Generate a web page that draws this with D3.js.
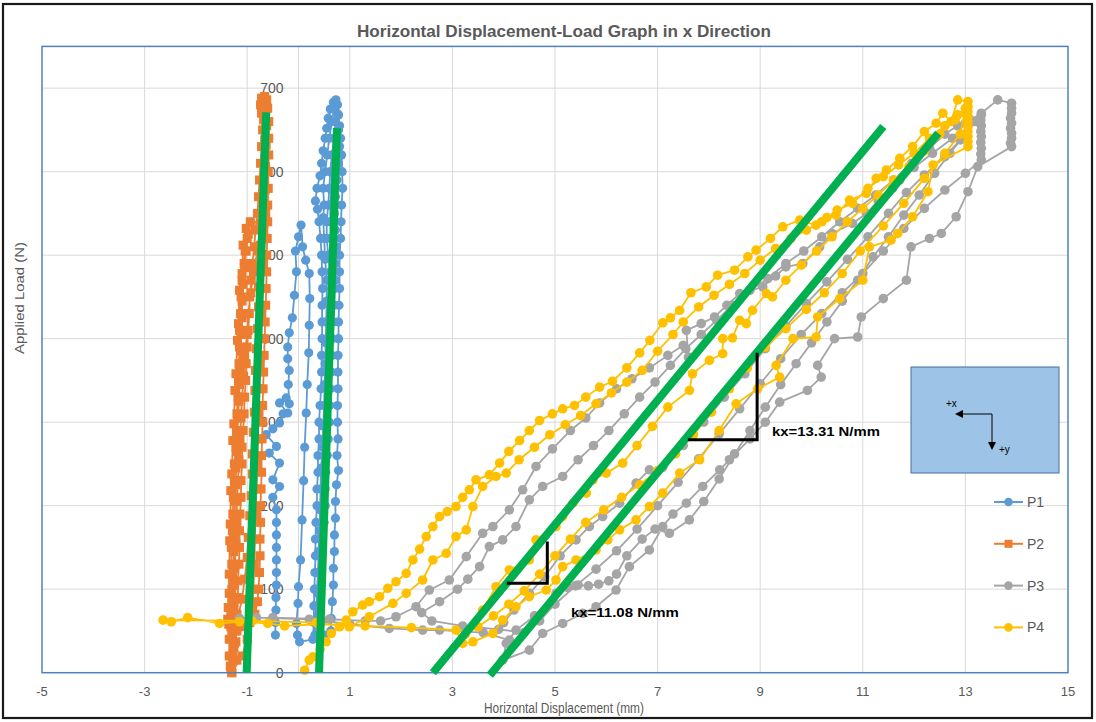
<!DOCTYPE html>
<html><head><meta charset="utf-8">
<script src="https://cdn.jsdelivr.net/npm/d3@7"></script>
<style>html,body{margin:0;padding:0;background:#fff;} svg{display:block;font-family:"Liberation Sans",Arial,sans-serif;}</style>
</head><body><svg id="c" width="1096" height="722"></svg>
<script>
// ---------- data ----------
const chartTitle = "Horizontal Displacement-Load Graph in x Direction";
const xTitle = "Horizontal Displacement (mm)";
const yTitle = "Applied Load (N)";
const xTicks = [-5,-3,-1,1,3,5,7,9,11,13,15];
const yTicks = [0,100,200,300,400,500,600,700];
const seriesNames = ["P1","P2","P3","P4"];

const P1 = [[-0.45,45],[-0.45,60],[-0.44,75],[-0.44,90],[-0.43,105],[-0.43,120],[-0.43,135],[-0.43,150],[-0.43,165],[-0.43,180],[-0.43,195],[-0.5,210],[-0.37,223],[-0.5,231],[-0.37,251],[-0.57,263],[-0.43,271],[-0.63,285],[-0.5,292],[-0.37,299],[-0.3,310],[-0.21,311],[-0.37,323],[-0.24,329],[-0.18,322],[-0.2,345],[-0.18,362],[-0.21,376],[-0.21,390],[-0.18,407],[-0.12,425],[-0.08,452],[-0.04,480],[-0.06,505],[0.0,522],[0.05,536],[0.08,510],[0.14,494],[0.21,478],[0.22,448],[0.21,416],[0.2,383],[0.17,345],[0.15,311],[0.12,270],[0.1,230],[0.07,183],[0.04,135],[0.0,103],[-0.01,83],[-0.04,59],[-0.02,45],[0.02,37],
[0.28,40],[0.3,60],[0.3,80],[0.31,100],[0.32,120],[0.33,140],[0.33,160],[0.34,180],[0.36,200],[0.36,220],[0.38,240],[0.38,260],[0.4,280],[0.4,300],[0.42,320],[0.44,340],[0.45,360],[0.45,380],[0.46,400],[0.46,420],[0.46,440],[0.47,460],[0.46,480],[0.45,500],[0.43,520],[0.4,540],[0.37,555],[0.33,565],[0.36,580],[0.42,595],[0.45,610],[0.48,625],[0.52,640],[0.55,652],[0.58,664],[0.62,675],[0.68,683],[0.73,686],[0.76,680],[0.78,668],[0.8,655],
[0.82,640],[0.84,620],[0.85,600],[0.86,580],[0.84,560],[0.83,540],[0.82,520],[0.8,500],[0.8,480],[0.8,460],[0.79,440],[0.78,420],[0.78,400],[0.77,380],[0.77,360],[0.77,340],[0.76,320],[0.76,300],[0.77,280],[0.75,260],[0.78,242],[0.74,225],[0.72,205],[0.72,185],[0.7,165],[0.7,145],[0.68,125],[0.68,105],[0.66,85],[0.64,65],[0.63,50],
[0.5,45],[0.45,60],[0.42,80],[0.42,100],[0.44,120],[0.45,140],[0.47,160],[0.5,180],[0.52,200],[0.52,220],[0.53,240],[0.56,260],[0.58,280],[0.6,300],[0.6,320],[0.6,340],[0.62,360],[0.62,380],[0.62,400],[0.63,420],[0.64,440],[0.65,460],[0.62,480],[0.58,500],[0.55,520],[0.55,540],[0.58,560],[0.6,580],[0.62,600],[0.65,620],[0.7,640],[0.72,660],
[0.7,640],[0.68,620],[0.66,600],[0.64,580],[0.62,560],[0.62,540],[0.64,520],[0.66,500],[0.68,480],[0.7,460],[0.7,440],[0.68,420],[0.66,400],[0.65,380],[0.64,360],[0.62,340],[0.6,320],[0.58,300],[0.55,280],[0.52,260],[0.5,240],[0.48,220],[0.46,200],[0.44,180],[0.42,160],[0.4,140],[0.38,120],[0.36,100],[0.35,80],[0.33,60],[0.32,45],
[0.38,70],[0.37,95],[0.38,120],[0.39,145],[0.41,170],[0.42,195],[0.43,220],[0.44,245],[0.47,270],[0.48,295],[0.5,320],[0.51,345],[0.52,370],[0.53,395],[0.54,420],[0.55,445],[0.55,470],[0.52,495],[0.5,520],[0.48,545],[0.5,560],[0.48,580],[0.52,600],[0.56,620],[0.6,640],[0.65,660],[0.7,675],[0.75,670],[0.78,650],[0.8,630],[0.78,610],[0.75,590],[0.72,570],[0.7,550],[0.72,530],[0.74,510],[0.72,490],[0.72,470]];

const P2 = [[-1.3,0],[-1.28,15],[-1.26,30],[-1.3,45],[-1.36,58],[-1.38,64],[-1.32,70],[-1.3,85],[-1.3,100],[-1.28,115],[-1.3,130],[-1.31,150],[-1.29,170],[-1.28,190],[-1.27,210],[-1.25,230],[-1.25,250],[-1.22,270],[-1.21,290],[-1.2,310],[-1.18,330],[-1.17,350],[-1.16,370],[-1.15,390],[-1.15,410],[-1.13,430],[-1.12,450],[-1.1,470],[-1.06,490],[-1.04,505],[-1.0,520],[-0.94,540],
[-0.98,525],[-1.02,505],[-1.05,485],[-1.08,465],[-1.1,445],[-1.1,425],[-1.12,405],[-1.12,385],[-1.14,365],[-1.15,345],[-1.16,325],[-1.18,305],[-1.2,285],[-1.2,265],[-1.22,245],[-1.22,225],[-1.24,205],[-1.24,185],[-1.25,165],[-1.26,145],[-1.26,125],[-1.28,105],[-1.28,85],[-1.3,70],[-1.32,55],
[-1.2,50],[-1.1,55],[-0.95,62],[-0.85,70],[-0.8,85],[-0.78,100],[-0.76,120],[-0.75,140],[-0.75,160],[-0.74,180],[-0.74,200],[-0.73,220],[-0.72,240],[-0.72,260],[-0.71,280],[-0.7,300],[-0.7,320],[-0.69,340],[-0.68,360],[-0.67,380],[-0.66,400],[-0.65,420],[-0.64,440],[-0.63,460],[-0.62,480],[-0.62,500],[-0.61,520],[-0.6,540],[-0.6,560],[-0.59,580],[-0.59,600],[-0.58,620],[-0.58,640],[-0.58,660],[-0.6,676],[-0.62,686],[-0.66,690],[-0.72,688],[-0.74,680],[-0.72,670],
[-0.7,650],[-0.72,630],[-0.74,610],[-0.76,590],[-0.78,570],[-0.8,550],[-0.84,530],[-0.86,510],[-0.9,490],[-0.92,470],[-0.95,450],[-0.96,430],[-0.98,410],[-1.0,390],[-1.02,370],[-1.03,350],[-1.05,330],[-1.06,310],[-1.08,290],[-1.1,270],[-1.1,250],[-1.12,230],[-1.12,210],[-1.14,190],[-1.15,170],[-1.15,150],[-1.16,130],[-1.18,110],[-1.18,90],[-1.2,70],[-1.22,50],[-1.25,35],[-1.3,20],[-1.32,5],[-1.3,0],
[-1.1,20],[-1.0,40],[-0.95,60],[-0.9,80],[-0.88,100],[-0.86,130],[-0.85,160],[-0.84,190],[-0.82,220],[-0.8,250],[-0.8,280],[-0.78,310],[-0.77,340],[-0.76,370],[-0.74,400],[-0.73,430],[-0.7,460],[-0.68,490],[-0.66,520],[-0.64,550],
[-0.7,530],[-0.8,505],[-0.88,480],[-0.93,455],[-0.98,430],[-1.0,405],[-1.05,380],[-1.07,355],[-1.1,330],[-1.12,305],[-1.14,280],[-1.16,255],[-1.18,230],[-1.2,205],[-1.2,180],[-1.22,155],[-1.24,130],[-1.25,105],[-1.26,80],[-1.3,60],[-1.35,40],[-1.35,20],[-1.33,8],
[-1.2,15],[-1.22,37],[-1.2,62],[-1.1,88],[-1.05,112],[-1.0,138],[-0.98,162],[-0.95,188],[-0.92,212],[-0.9,238],[-0.9,262],[-0.88,288],[-0.86,312],[-0.85,338],[-0.84,362],[-0.82,388],[-0.8,412],[-0.78,438],[-0.78,462],[-0.76,488],[-0.74,512],[-0.72,538],[-0.7,562],[-0.68,588],[-0.66,612],[-0.66,638],[-0.68,662],
[-0.64,672],[-0.62,655],[-0.63,632],[-0.64,606],[-0.65,578],[-0.66,548],[-1.02,532],[-1.08,512],[-1.1,478],[-1.15,458],[-1.17,418],[-1.19,398],[-1.22,358],[-1.24,338],[-1.26,298],[-1.28,278],[-1.3,238],[-1.32,218],[-1.33,178],[-1.34,158],[-1.35,118],[-1.35,95],[-1.37,78]];

const P3 = [[4.11,39],[3.6,48],[2.75,51],[2.42,51],[1.77,53],[1.0,58],[0.21,64],[-0.82,66],[-1.15,65],[-0.5,66],[0.6,64],[1.3,62],[1.6,62],
[1.9,67],[2.29,79],[2.55,99],[2.94,111],[3.27,139],[3.59,167],[3.79,175],[4.11,195],[4.37,219],[4.63,247],[4.95,268],[5.3,290],[5.6,305],[5.87,323],[6.2,340],[6.5,352],[6.84,365],[7.2,380],[7.5,392],[7.6,378],[7.56,410],[7.85,418],[8.11,426],[8.35,440],[8.6,454],[9.05,462],[9.3,475],[9.5,486],[9.83,490],[10.16,510],[10.4,526],[10.8,538],[11.07,550],[11.3,565],[11.58,580],[11.72,590],[12.0,605],[12.36,622],[12.75,640],[13.0,658],[13.31,670],[13.63,686],[13.9,682],[13.9,676],[13.9,670],[13.88,664],[13.9,658],[13.88,652],[13.9,646],[13.9,640],[13.88,634],[13.9,630],
[13.24,606],[13.05,576],[12.82,546],[12.53,526],[12.3,520],[11.94,510],[11.85,470],[11.4,448],[10.97,426],[10.9,402],[10.45,400],[10.12,368],[10.19,354],[9.92,338],[9.38,324],[9.1,300],[8.8,280],[8.4,255],[8.21,243],[7.88,223],[7.56,203],[7.3,190],[7.1,175],[6.84,147],[6.45,127],[6.19,99],[5.8,79],[5.54,71],[5.15,59],[4.76,47],[4.5,27],[3.98,15],[4.05,35],[4.24,51],
[4.6,68],[5.02,95],[5.25,102],[5.45,105],[5.65,104],[5.85,106],[6.05,110],[6.2,118],[6.4,140],[6.7,160],[6.95,172],[7.23,167],[7.62,183],[7.9,205],[8.2,232],[8.5,262],[8.8,290],[9.1,318],[9.4,345],[9.7,370],[10.0,395],[10.3,420],[10.6,445],[10.9,470],[11.2,498],[11.5,522],[11.8,548],[12.1,572],[12.4,598],[12.7,622],[13.0,645],[13.2,660],[13.31,668],[13.3,662],[13.31,655],[13.3,648],[13.31,642],[13.3,635],[13.31,628],[13.3,621],[13.31,614],
[13.0,598],[12.6,578],[12.2,556],[11.8,532],[11.4,505],[11.0,478],[10.6,455],[10.2,430],[9.8,405],[9.4,376],[9.0,346],[8.6,316],[8.2,286],[7.8,256],[7.4,228],[7.0,200],[6.6,172],[6.2,146],[5.8,124],[5.4,104],[5.0,82],[4.7,62],[4.4,48],
[3.9,52],[3.2,56],[2.6,62],[2.4,72],[2.75,85],[3.1,100],[3.3,112],[3.53,127],[3.72,151],[3.98,159],[4.24,175],[4.5,207],[4.76,223],[5.15,235],[5.45,255],[5.75,272],[6.05,290],[6.35,310],[6.65,330],[6.95,348],[7.25,368],[7.55,388],[7.85,405],[8.15,422],[8.45,440],[8.8,458],[9.15,472],[9.5,490],[9.85,505],[10.2,522],[10.55,540],[10.9,556],[11.25,572],[11.6,590],[11.95,610],[12.3,628],[12.6,645],[12.85,655],[13.1,662],
[12.9,638],[12.6,618],[12.2,596],[11.85,575],[11.5,550],[11.1,522],[10.7,495],[10.3,468],[9.9,442],[9.5,415],[9.1,388],[8.7,358],[8.3,330],[7.9,300],[7.5,272],[7.1,246],[6.84,243],[6.58,227],[6.26,203],[5.93,187],[5.67,175],[5.41,159],[5.1,140],[4.8,115],[4.5,95],[4.2,75],[4.0,60]];

const P4 = [[0.12,3],[0.21,15],[0.28,19],[0.42,28],[0.54,37],[0.64,47],[0.8,55],[0.93,63],[1.06,73],[1.25,81],[1.38,85],[1.58,91],[1.74,101],[1.9,109],[2.1,119],[2.23,135],[2.36,148],[2.49,163],[2.62,175],[2.75,187],[2.9,193],[3.07,199],[3.2,210],[3.33,219],[3.46,231],[3.72,237],[3.92,251],[4.1,265],[4.31,278],[4.5,290],[4.7,302],[4.95,310],[5.15,316],[5.38,320],[5.6,330],[5.87,342],[6.12,349],[6.4,365],[6.65,383],[6.85,398],[7.1,419],[7.25,425],[7.43,434],[7.65,455],[7.95,462],[8.17,476],[8.5,482],[8.76,498],[8.92,506],[9.2,520],[9.44,534],[9.77,542],[10.09,536],[10.3,545],[10.48,548],[10.74,566],[11.07,574],[11.26,592],[11.46,602],[11.72,616],[11.97,630],[12.2,648],[12.43,658],[12.56,670],[12.72,660],[12.85,686],[13.05,684],[13.05,678],[13.05,672],[13.05,666],[13.05,660],[13.05,654],[13.05,648],[13.05,642],[13.05,636],[13.05,630],
[12.37,608],[12.27,576],[11.97,546],[11.68,526],[11.55,518],[11.13,510],[11.0,470],[10.55,448],[10.12,426],[10.09,402],[9.64,400],[9.31,368],[9.38,354],[8.95,340],[8.53,322],[8.2,290],[7.82,255],[7.43,239],[7.1,215],[6.84,199],[6.58,183],[6.26,171],[6.03,159],[5.8,147],[5.41,135],[5.15,127],[5.02,111],[4.83,99],[4.5,91],[4.24,79],[3.98,63],[3.79,47],[3.4,37],[3.2,35],[3.07,51],
[2.2,54],[1.3,56],[0.4,58],[-0.27,56],[-0.6,59],[-1.15,61],[-1.54,59],[-2.16,66],[-2.48,61],[-2.64,63],[-0.9,62],[0.35,60],
[0.99,55],[1.38,67],[1.84,83],[2.1,95],[2.42,111],[2.62,135],[2.88,143],[3.07,163],[3.27,171],[3.4,199],[3.59,223],[3.85,235],[4.05,239],[4.3,255],[4.6,270],[4.9,285],[5.2,297],[5.5,308],[5.8,322],[6.1,335],[6.4,348],[6.7,362],[7.0,385],[7.3,405],[7.5,420],[7.8,438],[8.1,452],[8.4,465],[8.7,478],[9.0,494],[9.3,508],[9.6,520],[9.9,530],[10.2,540],[10.5,554],[10.8,562],[11.1,580],[11.4,594],[11.7,608],[12.0,622],[12.3,640],[12.6,655],[12.85,668],[13.0,676],
[12.9,645],[12.6,622],[12.2,592],[11.8,562],[11.4,535],[10.95,505],[10.6,478],[10.25,455],[9.9,435],[9.5,412],[9.1,390],[8.75,365],[8.4,340],[8.05,312],[7.7,285],[7.35,262],[7.0,242],[6.65,225],[6.3,210],[5.95,195],[5.6,180],[5.3,160],[5.0,140],[4.7,118],[4.4,98],[4.1,82],[3.8,68],[3.5,55],[3.25,46],
[3.59,75],[3.85,103],[4.11,123],[4.5,135],[4.63,159],[5.02,175],[5.15,187],[5.35,203],[5.61,215],[5.74,231],[6.0,239],[6.32,251],[6.6,272],[6.9,295],[7.2,318],[7.62,338],[7.68,358],[8.01,374],[8.27,382],[8.27,400],[8.46,401],[8.6,422],[8.73,418],[8.85,434],[9.12,454],[9.24,450],[9.5,470],[9.8,488],[10.1,505],[10.4,522],[10.7,540],[11.0,556],[11.3,572],[11.6,590],[11.9,606],[12.2,625],[12.5,645],[12.8,662],[13.0,670]];

// fitted stiffness lines (data units)
const fitLines = [[[-1.01,0],[-0.63,671]],[[0.4,0],[0.75,652]],[[2.62,0],[11.4,654]],[[3.73,-3],[12.47,646]]];
// stiffness triangles (data units)
const stiffMarks = [[[4.06,107],[4.85,107],[4.85,157]],[[7.59,279],[8.94,279],[8.94,383]]];
const stiffLabels = ["kx=11.08 N/mm","kx=13.31 N/mm"];

// ---------- drawing ----------
const W = 1096, H = 722;
const svg = d3.select("#c");
const x = d3.scaleLinear().domain([-5,15]).range([42,1068]);
const y = d3.scaleLinear().domain([0,750]).range([672.7,46.4]);
const colors = {P1:"#5B9BD5",P2:"#ED7D31",P3:"#A5A5A5",P4:"#FFC000"};
const grey = "#595959";

svg.append("rect").attr("width",W).attr("height",H).attr("fill","#fff");
svg.append("rect").attr("x",3).attr("y",4).attr("width",1089).attr("height",714)
  .attr("fill","none").attr("stroke","#1a1a1a").attr("stroke-width",2.2);

svg.append("text").attr("x",564).attr("y",37).attr("text-anchor","middle")
  .attr("font-size",16).attr("font-weight","bold").attr("fill",grey)
  .attr("textLength",414).attr("lengthAdjust","spacingAndGlyphs").text(chartTitle);

const g = svg.append("g");
g.selectAll(".vg").data(xTicks.filter(d=>d>-5&&d<15).concat([0])).join("line")
  .attr("x1",d=>x(d)).attr("x2",d=>x(d)).attr("y1",y(750)).attr("y2",y(0))
  .attr("stroke","#D9D9D9").attr("stroke-width",1);
g.selectAll(".hg").data(yTicks.filter(d=>d>0)).join("line")
  .attr("x1",x(-5)).attr("x2",x(15)).attr("y1",d=>y(d)).attr("y2",d=>y(d))
  .attr("stroke","#D9D9D9").attr("stroke-width",1);

g.selectAll(".yl").data(yTicks).join("text")
  .attr("x",x(0)-15).attr("y",d=>y(d)+5).attr("text-anchor","end")
  .attr("font-size",14).attr("fill",grey).text(d=>d);

g.selectAll(".xl").data(xTicks).join("text")
  .attr("x",d=>x(d)).attr("y",696).attr("text-anchor","middle")
  .attr("font-size",13).attr("fill",grey).text(d=>d);

svg.append("text").attr("x",564).attr("y",713).attr("text-anchor","middle")
  .attr("font-size",14).attr("fill",grey).attr("textLength",160).attr("lengthAdjust","spacingAndGlyphs").text(xTitle);
svg.append("text").attr("transform","translate(24,298) rotate(-90)").attr("text-anchor","middle")
  .attr("font-size",13.5).attr("fill",grey).attr("textLength",112).attr("lengthAdjust","spacingAndGlyphs").text(yTitle);

const line = d3.line().x(d=>x(d[0])).y(d=>y(d[1]));
const seriesData = {P1,P2,P3,P4};
seriesNames.forEach(name=>{
  const data = seriesData[name], c = colors[name];
  const sg = svg.append("g");
  sg.append("path").datum(data).attr("d",line).attr("fill","none")
    .attr("stroke",c).attr("stroke-width",1.8).attr("stroke-linejoin","round");
  if(name==="P2"){
    sg.selectAll("rect").data(data).join("rect")
      .attr("x",d=>x(d[0])-4.5).attr("y",d=>y(d[1])-4.5).attr("width",9).attr("height",9).attr("fill",c);
  } else {
    sg.selectAll("circle").data(data).join("circle")
      .attr("cx",d=>x(d[0])).attr("cy",d=>y(d[1])).attr("r",name==="P1"?4.6:4.8).attr("fill",c);
  }
});

svg.append("rect").attr("x",x(-5)).attr("y",y(750)).attr("width",x(15)-x(-5)).attr("height",y(0)-y(750))
  .attr("fill","none").attr("stroke","#4F81BD").attr("stroke-width",1.5);

svg.selectAll(".fit").data(fitLines).join("line")
  .attr("x1",d=>x(d[0][0])).attr("y1",d=>y(d[0][1])).attr("x2",d=>x(d[1][0])).attr("y2",d=>y(d[1][1]))
  .attr("stroke","#00B050").attr("stroke-width",8);

svg.selectAll(".st").data(stiffMarks).join("path")
  .attr("d",d=>line(d)).attr("fill","none").attr("stroke","#000").attr("stroke-width",3);
const labelPos = [[5.31,73],[9.23,290]];
svg.selectAll(".sl").data(stiffLabels).join("text")
  .attr("x",(d,i)=>x(labelPos[i][0])).attr("y",(d,i)=>y(labelPos[i][1])+5)
  .attr("font-size",13).attr("font-weight","bold").attr("fill","#000")
  .attr("textLength",108).attr("lengthAdjust","spacingAndGlyphs").text(d=>d);

const bx = svg.append("g");
bx.append("rect").attr("x",911).attr("y",367).attr("width",148).attr("height",106)
  .attr("fill","#9DC3E6").attr("stroke","#41719C").attr("stroke-width",1);
bx.append("line").attr("x1",992).attr("y1",414).attr("x2",962).attr("y2",414).attr("stroke","#000").attr("stroke-width",1);
bx.append("path").attr("d","M955,414 L963,410 L963,418 Z").attr("fill","#000");
bx.append("line").attr("x1",992).attr("y1",414).attr("x2",992).attr("y2",443).attr("stroke","#000").attr("stroke-width",1);
bx.append("path").attr("d","M992,450 L988,442 L996,442 Z").attr("fill","#000");
bx.append("text").attr("x",946).attr("y",407).attr("font-size",10).attr("fill","#000").text("+x");
bx.append("text").attr("x",999).attr("y",453).attr("font-size",10).attr("fill","#000").text("+y");

const lg = svg.append("g");
seriesNames.forEach((name,i)=>{
  const ly = 502 + i*41.8, c = colors[name];
  lg.append("line").attr("x1",994).attr("x2",1023).attr("y1",ly).attr("y2",ly).attr("stroke",c).attr("stroke-width",2);
  if(name==="P2") lg.append("rect").attr("x",1004.5).attr("y",ly-4).attr("width",8).attr("height",8).attr("fill",c);
  else lg.append("circle").attr("cx",1008.5).attr("cy",ly).attr("r",4.3).attr("fill",c);
  lg.append("text").attr("x",1027).attr("y",ly+5).attr("font-size",14).attr("fill",grey).text(name);
});
</script></body></html>
